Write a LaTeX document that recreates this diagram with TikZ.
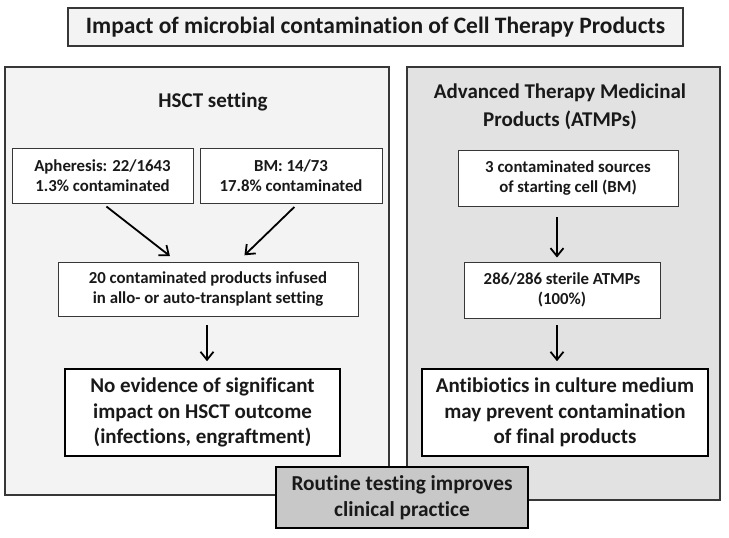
\documentclass[tikz,border=0pt]{standalone}
\usepackage{fontspec}
\setmainfont{Carlito}[Ligatures=NoCommon]
\usetikzlibrary{arrows.meta,positioning}
\definecolor{PanelLight}{RGB}{243,243,243}
\definecolor{PanelDark}{RGB}{226,226,226}
\definecolor{NoteGray}{RGB}{200,200,200}
\definecolor{EdgeGray}{RGB}{55,55,55}
\definecolor{TextBlack}{RGB}{25,25,25}

\begin{document}
\begin{tikzpicture}[x=1pt, y=-1pt, text=TextBlack,
    panel/.style={draw=EdgeGray, line width=1.8pt},
    headtext/.style={align=center, font=\fontsize{21}{28}\selectfont\bfseries},
    databox/.style={draw=EdgeGray, fill=white, line width=0.9pt, align=center,
      inner sep=0pt, font=\fontsize{16.8}{20}\selectfont\bfseries},
    keybox/.style={draw=black, fill=white, line width=1.6pt, align=center,
      inner sep=0pt, font=\fontsize{21}{25.5}\selectfont\bfseries},
    flow/.style={-{Straight Barb[length=8pt,width=13pt]}, line width=1.8pt}]
  \useasboundingbox (0,0) rectangle (729,538);
  \fill[white] (0,0) rectangle (729,538);

  % title
  \node[draw=EdgeGray, fill=PanelLight, line width=1.2pt, inner sep=0pt,
    minimum width=615pt, minimum height=38pt,
    font=\fontsize{23.5}{28}\selectfont\bfseries] (title) at (375.5,27)
    {Impact of microbial contamination of Cell Therapy Products};

  % panels
  \draw[panel, fill=PanelLight] (5,67) rectangle (389,495);
  \draw[panel, fill=PanelDark] (407,67) rectangle (720,500);

  % HSCT side
  \node[headtext] (hsct) at (213,102) {HSCT setting};
  \node[databox, minimum width=181pt, minimum height=55pt] (aph) at (102.5,175.5)
    {Apheresis: 22/1643\\1.3\% contaminated};
  \node[databox, minimum width=182pt, minimum height=55pt] (bm) at (291,175.5)
    {BM: 14/73\\17.8\% contaminated};
  \node[databox, minimum width=300pt, minimum height=54pt] (infused) at (208,289)
    {20 contaminated products infused\\in allo- or auto-transplant setting};
  \node[keybox, minimum width=275pt, minimum height=87pt] (noev) at (202.5,412.5)
    {No evidence of significant\\impact on HSCT outcome\\(infections, engraftment)};

  % ATMP side
  \node[headtext] (atmp) at (560,107) {Advanced Therapy Medicinal\\Products (ATMPs)};
  \node[databox, minimum width=220pt, minimum height=56pt] (sources) at (568,178)
    {3 contaminated sources\\of starting cell (BM)};
  \node[databox, minimum width=196pt, minimum height=56pt] (sterile) at (562,290)
    {286/286 sterile ATMPs\\(100\%)};
  \node[keybox, minimum width=286pt, minimum height=87pt] (antib) at (565,412.5)
    {Antibiotics in culture medium\\may prevent contamination\\of final products};

  % conclusion
  \node[draw=black, fill=NoteGray, line width=1.6pt, align=center, inner sep=0pt,
    minimum width=252pt, minimum height=61pt,
    font=\fontsize{21.3}{26}\selectfont\bfseries] (routine) at (402,497.5)
    {Routine testing improves\\clinical practice};

  % arrows
  \draw[flow, shorten <=5pt, shorten >=9pt] (aph.south) -- ([xshift=-31pt]infused.north);
  \draw[flow, shorten <=5pt, shorten >=9pt] ([xshift=7pt]bm.south) -- ([xshift=30pt]infused.north);
  \draw[flow, shorten <=9pt, shorten >=7pt] ([xshift=-1pt]infused.south) -- ([xshift=-1pt]infused.south |- noev.north);
  \draw[flow, shorten <=11pt, shorten >=4pt] ([xshift=-11pt]sources.south) -- ([xshift=-11pt]sources.south |- sterile.north);
  \draw[flow, shorten <=7pt, shorten >=7pt] ([xshift=-5pt]sterile.south) -- ([xshift=-5pt]sterile.south |- antib.north);
\end{tikzpicture}
\end{document}
